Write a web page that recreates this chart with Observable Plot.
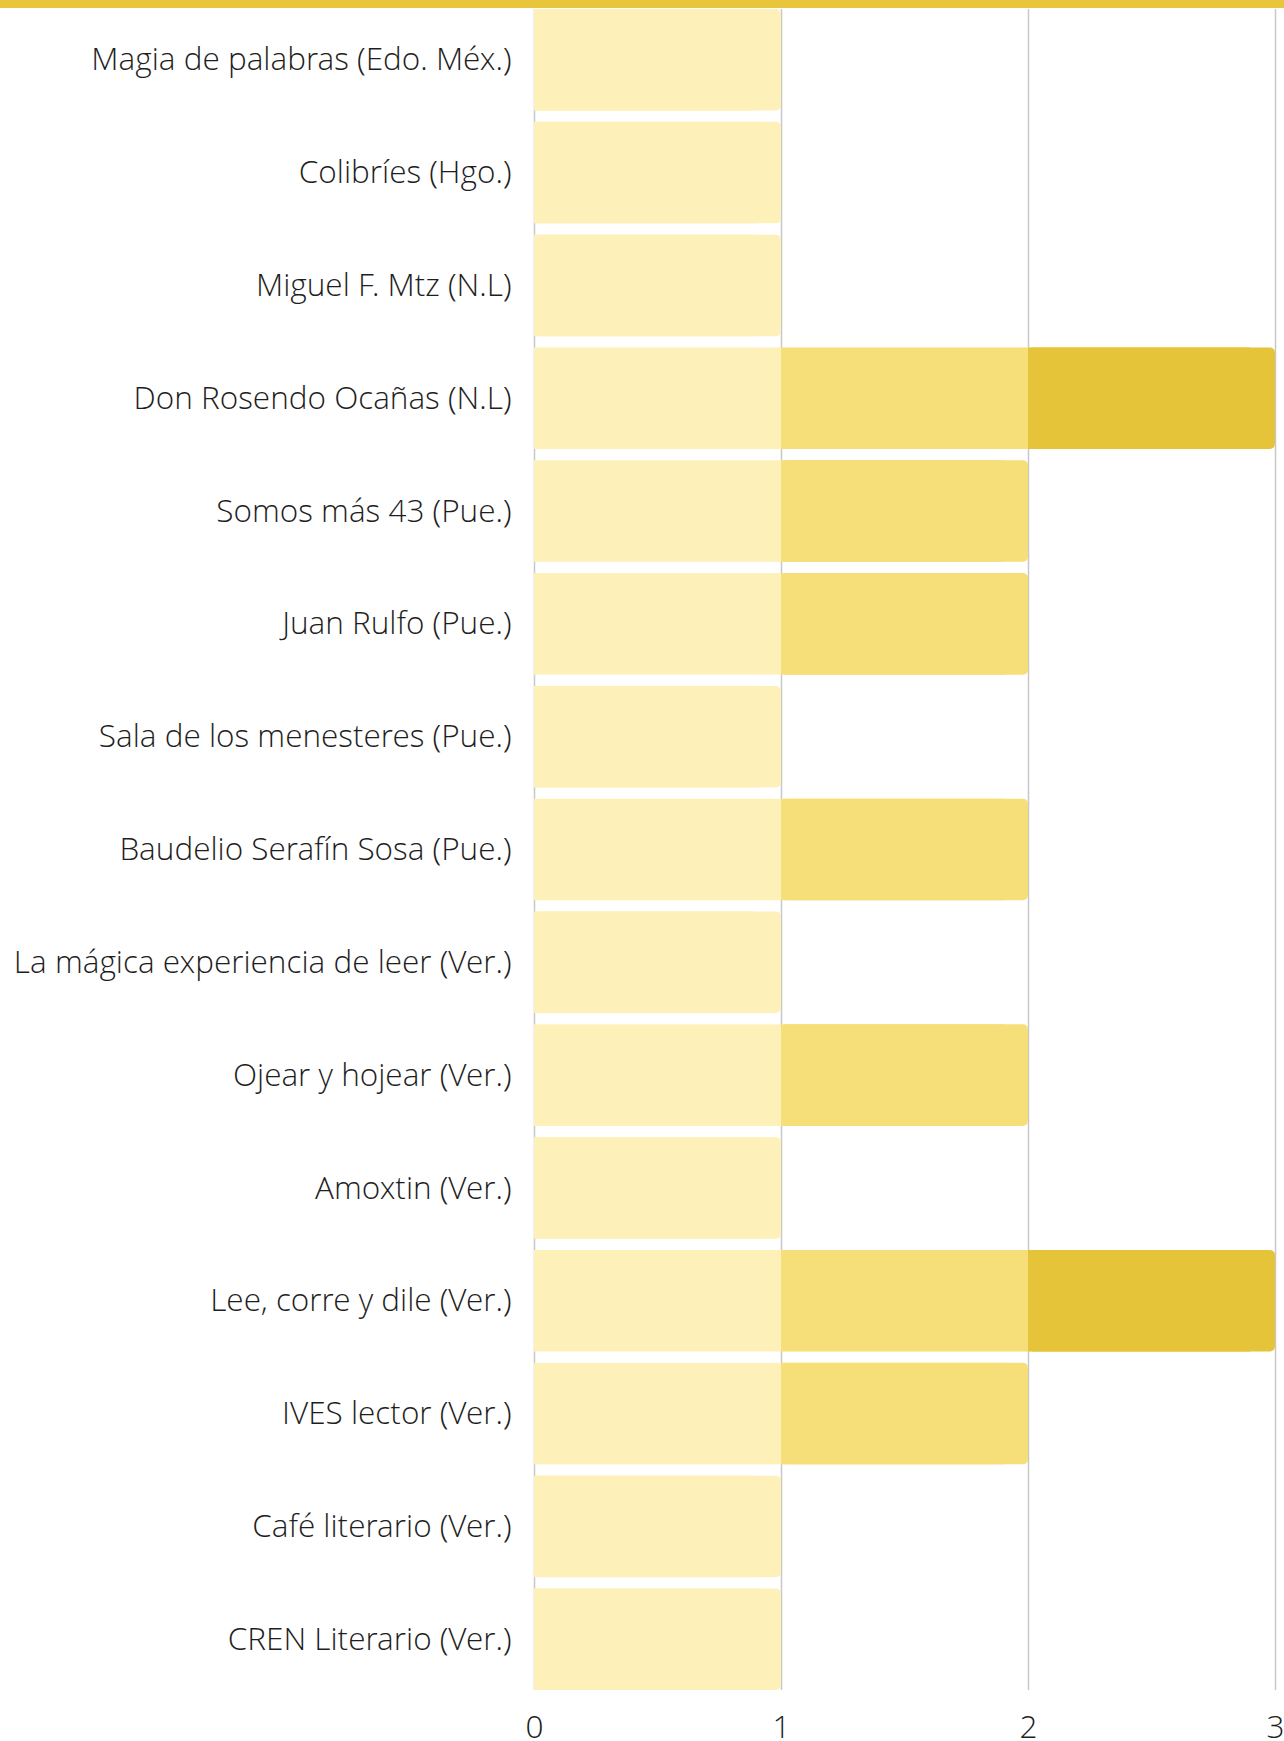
<!DOCTYPE html>
<html>
<head>
<meta charset="utf-8">
<script src="https://cdn.jsdelivr.net/npm/d3@7"></script>
<script src="https://cdn.jsdelivr.net/npm/@observablehq/plot@0.6"></script>
<style>
  html, body { margin: 0; padding: 0; background: #fff; }
  #band { height: 8px; background: #E8C53A; width: 1284px; }
  #chart svg { display: block; }
</style>
</head>
<body>
<div id="band"></div>
<div id="chart"></div>
<script>
const categories = [
  "Magia de palabras (Edo. Méx.)",
  "Colibríes (Hgo.)",
  "Miguel F. Mtz (N.L)",
  "Don Rosendo Ocañas (N.L)",
  "Somos más 43 (Pue.)",
  "Juan Rulfo (Pue.)",
  "Sala de los menesteres (Pue.)",
  "Baudelio Serafín Sosa (Pue.)",
  "La mágica experiencia de leer (Ver.)",
  "Ojear y hojear (Ver.)",
  "Amoxtin (Ver.)",
  "Lee, corre y dile (Ver.)",
  "IVES lector (Ver.)",
  "Café literario (Ver.)",
  "CREN Literario (Ver.)"
];
const totals = [1, 1, 1, 3, 2, 2, 1, 2, 1, 2, 1, 3, 2, 1, 1];
const levels = [1, 2, 3];
const levelColors = ["#FDF0B9", "#F6DE78", "#E6C43A"];
const xTicks = [0, 1, 2, 3];

// one segment per unit level reached by each category
const segments = [];
categories.forEach((c, i) => {
  for (let k = 1; k <= totals[i]; k++) {
    segments.push({name: c, level: k, x1: k - 1, x2: k, last: k === totals[i]});
  }
});
const inner = segments.filter(d => !d.last);
const ends = segments.filter(d => d.last);

const chart = Plot.plot({
  width: 1284,
  height: 1733,
  marginLeft: 534,
  marginRight: 9,
  marginTop: 1,
  marginBottom: 51,
  style: {fontFamily: "'Open Sans Light', 'Open Sans', sans-serif", fontSize: "31.5px", fontWeight: 300, color: "#1e1e1e", background: "#fff"},
  x: {domain: [0, 3], ticks: xTicks, tickFormat: d3.format("d"), tickSize: 0, tickPadding: 25, label: null},
  y: {domain: categories, paddingInner: 0.1, paddingOuter: 0, round: false, tickSize: 0, tickPadding: 23, label: null},
  color: {domain: levels, range: levelColors},
  marks: [
    Plot.ruleX(xTicks, {stroke: "#c8c8c8", strokeWidth: 1.5}),
    Plot.barX(inner, {y: "name", x1: "x1", x2: "x2", fill: d => d.level}),
    Plot.barX(ends, {y: "name", x1: "x1", x2: "x2", fill: d => d.level, rx: 5}),
    Plot.barX(ends, {y: "name", x1: "x1", x2: d => d.x2 - 0.1, fill: d => d.level})
  ]
});
document.getElementById("chart").appendChild(chart);
</script>
</body>
</html>
